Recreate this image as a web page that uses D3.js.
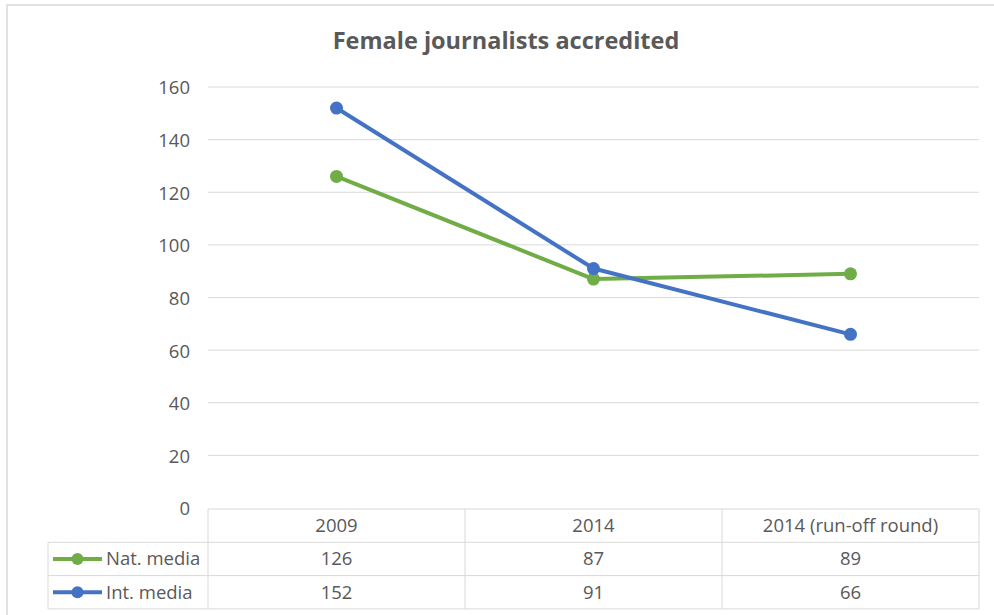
<!DOCTYPE html>
<html>
<head>
<meta charset="utf-8">
<script src="https://cdn.jsdelivr.net/npm/d3@7"></script>
<style>
  html, body { margin: 0; padding: 0; background: #fff; }
  svg { display: block; }
  text { font-family: "Open Sans", "Noto Sans", sans-serif; fill: #595959; }
</style>
</head>
<body>
<svg id="chart" width="994" height="615"></svg>
<script>
// Chart data
const categories = ["2009", "2014", "2014 (run-off round)"];
const natMedia = [126, 87, 89];
const intMedia = [152, 91, 66];
const yTicks = [0, 20, 40, 60, 80, 100, 120, 140, 160];
const seriesNames = ["Nat. media", "Int. media"];
const seriesColors = ["#70ad47", "#4472c4"];
const title = "Female journalists accredited";

const series = [
  { name: seriesNames[0], color: seriesColors[0], values: natMedia },
  { name: seriesNames[1], color: seriesColors[1], values: intMedia }
];

const svg = d3.select("#chart");
const fontSize = "18.5px";

// Outer chart frame
svg.append("rect")
  .attr("x", 7).attr("y", 5)
  .attr("width", 1010).attr("height", 640)
  .attr("fill", "#fff")
  .attr("stroke", "#d9d9d9").attr("stroke-width", 1.5);

const plot = { left: 208, right: 979, top: 87, bottom: 508 };

const x = d3.scaleBand()
  .domain(categories)
  .range([plot.left, plot.right])
  .paddingInner(0).paddingOuter(0);

const y = d3.scaleLinear()
  .domain([0, 160])
  .range([plot.bottom, plot.top]);

// Title
svg.append("text")
  .attr("x", 506).attr("y", 49)
  .attr("text-anchor", "middle")
  .style("font-size", "23.5px")
  .style("font-weight", "bold")
  .text(title);

// Horizontal gridlines
svg.append("g")
  .selectAll("line")
  .data(yTicks.filter(d => d > 0))
  .join("line")
  .attr("x1", plot.left).attr("x2", plot.right)
  .attr("y1", d => y(d)).attr("y2", d => y(d))
  .attr("stroke", "#d9d9d9").attr("stroke-width", 1);

// Y axis labels
const yAxis = d3.axisLeft(y).tickValues(yTicks).tickSize(0).tickPadding(18);
const yg = svg.append("g")
  .attr("transform", `translate(${plot.left},1)`)
  .call(yAxis);
yg.select(".domain").remove();
yg.selectAll("text")
  .style("font-size", fontSize)
  .style("font-family", "'Open Sans', 'Noto Sans', sans-serif")
  .attr("fill", "#595959");

// Data table below the plot
const rowH = 33.3;
const tableTop = plot.bottom + 1;
const legendLeft = 48;
const tg = svg.append("g");
const gridStroke = "#d9d9d9";

// header row line (category columns only)
tg.append("line")
  .attr("x1", plot.left).attr("x2", plot.right)
  .attr("y1", tableTop).attr("y2", tableTop)
  .attr("stroke", gridStroke);
[1, 2, 3].forEach(i => {
  tg.append("line")
    .attr("x1", legendLeft).attr("x2", plot.right)
    .attr("y1", tableTop + rowH * i).attr("y2", tableTop + rowH * i)
    .attr("stroke", gridStroke);
});
// vertical lines
const colEdges = [plot.left].concat(categories.map(c => x(c) + x.bandwidth()));
colEdges.forEach(cx => {
  tg.append("line")
    .attr("x1", cx).attr("x2", cx)
    .attr("y1", tableTop).attr("y2", tableTop + rowH * 3)
    .attr("stroke", gridStroke);
});
tg.append("line")
  .attr("x1", legendLeft).attr("x2", legendLeft)
  .attr("y1", tableTop + rowH).attr("y2", tableTop + rowH * 3)
  .attr("stroke", gridStroke);

// header labels
tg.selectAll("text.cat")
  .data(categories)
  .join("text")
  .attr("class", "cat")
  .attr("x", d => x(d) + x.bandwidth() / 2)
  .attr("y", tableTop + rowH / 2)
  .attr("dy", "0.35em")
  .attr("text-anchor", "middle")
  .style("font-size", fontSize)
  .text(d => d);

// value rows with legend keys
series.forEach((s, si) => {
  const cy = tableTop + rowH * (si + 1) + rowH / 2;
  tg.append("line")
    .attr("x1", 53).attr("x2", 102)
    .attr("y1", cy).attr("y2", cy)
    .attr("stroke", s.color).attr("stroke-width", 4);
  tg.append("circle")
    .attr("cx", 77.5).attr("cy", cy).attr("r", 6)
    .attr("fill", s.color);
  tg.append("text")
    .attr("x", 106).attr("y", cy).attr("dy", "0.35em")
    .style("font-size", fontSize)
    .text(s.name);
  tg.selectAll(null)
    .data(s.values)
    .join("text")
    .attr("x", (d, i) => x(categories[i]) + x.bandwidth() / 2)
    .attr("y", cy).attr("dy", "0.35em")
    .attr("text-anchor", "middle")
    .style("font-size", fontSize)
    .text(d => d);
});

// Lines and markers
const line = d3.line()
  .x((d, i) => x(categories[i]) + x.bandwidth() / 2)
  .y(d => y(d));

series.forEach(s => {
  const g = svg.append("g");
  g.append("path")
    .datum(s.values)
    .attr("d", line)
    .attr("fill", "none")
    .attr("stroke", s.color)
    .attr("stroke-width", 4)
    .attr("stroke-linejoin", "round");
  g.selectAll("circle")
    .data(s.values)
    .join("circle")
    .attr("cx", (d, i) => x(categories[i]) + x.bandwidth() / 2)
    .attr("cy", d => y(d))
    .attr("r", 6.5)
    .attr("fill", s.color);
});
</script>
</body>
</html>
